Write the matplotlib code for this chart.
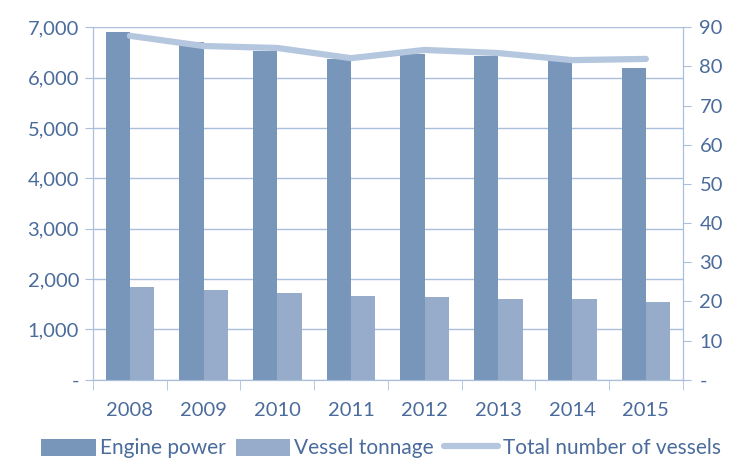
import matplotlib.pyplot as plt
import numpy as np
from matplotlib.ticker import FuncFormatter

years = ['2008', '2009', '2010', '2011', '2012', '2013', '2014', '2015']
engine_power = [6900, 6700, 6530, 6370, 6470, 6430, 6410, 6190]
vessel_tonnage = [1845, 1786, 1726, 1667, 1647, 1607, 1607, 1548]
total_vessels = [87.8, 85.2, 84.7, 82.1, 84.2, 83.4, 81.6, 81.9]

dark = '#7895ba'
light = '#96acca'
line_c = '#b5c7de'
text_c = '#4a6b9b'
grid_c = '#a9bfdc'

plt.rcParams['font.family'] = ['Lato', 'DejaVu Sans']

fig = plt.figure(figsize=(7.47, 4.61), dpi=100)
ax = fig.add_axes([0.1245, 0.176, 0.7895, 0.765])
ax2 = ax.twinx()

x = np.arange(len(years))
w = 0.33
ax.bar(x - w / 2, engine_power, w, color=dark, label='Engine power', zorder=2)
ax.bar(x + w / 2, vessel_tonnage, w, color=light, label='Vessel tonnage', zorder=2)
ax2.plot(x, total_vessels, color=line_c, lw=4.5, solid_capstyle='round',
         label='Total number of vessels', zorder=3)

ax.set_xlim(-0.5, len(years) - 0.5)
ax.set_ylim(0, 7000)
ax2.set_ylim(0, 90)
ax.set_yticks(np.arange(0, 7001, 1000))
ax2.set_yticks(np.arange(0, 91, 10))
ax.yaxis.set_major_formatter(FuncFormatter(lambda v, p: '-' if v == 0 else '{:,.0f}'.format(v)))
ax2.yaxis.set_major_formatter(FuncFormatter(lambda v, p: '-' if v == 0 else '{:.0f}'.format(v)))

ax.grid(axis='y', color=grid_c, lw=1, zorder=0)
ax.set_axisbelow(True)

ax.set_xticks(x)
ax.set_xticklabels(years)
ax.set_xticks(np.arange(-0.5, len(years)), minor=True)
ax.tick_params(axis='x', which='major', length=0, pad=16, labelsize=14.5, labelcolor=text_c)
ax.tick_params(axis='x', which='minor', length=7, color=grid_c)
ax.tick_params(axis='y', length=6, color=grid_c, labelsize=14.5, labelcolor=text_c, pad=4)
ax2.tick_params(axis='y', length=6, color=grid_c, labelsize=14.5, labelcolor=text_c, pad=6)

for a in (ax, ax2):
    for s in a.spines.values():
        s.set_color(grid_c)
    a.spines['top'].set_visible(False)

h1, l1 = ax.get_legend_handles_labels()
h2, l2 = ax2.get_legend_handles_labels()
fig.legend(h1 + h2, l1 + l2, loc='lower center', bbox_to_anchor=(0.51, -0.035), ncol=3,
           frameon=False, fontsize=15, labelcolor=text_c, handlelength=2.6,
           handletextpad=0.2, columnspacing=0.5, handleheight=0.9)

fig.savefig('out.png', dpi=100)
